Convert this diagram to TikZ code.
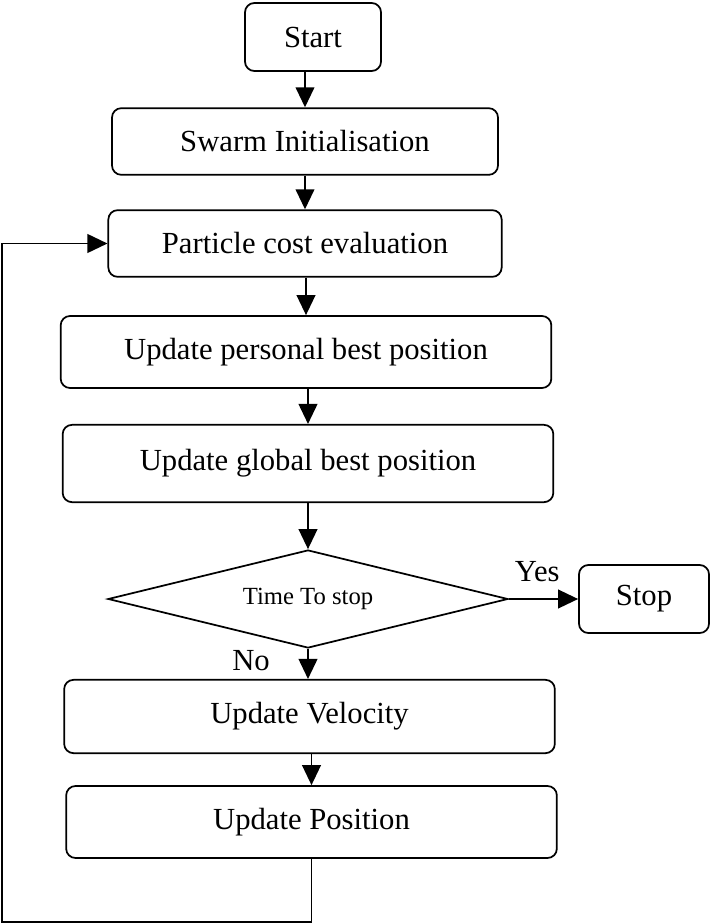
\documentclass[tikz,border=0pt]{standalone}
\usepackage{fontspec}
\setmainfont{Liberation Serif}
\usetikzlibrary{arrows.meta,shapes.geometric}
\tikzstyle{block}=[draw,rounded corners=7pt,line width=1.3pt,inner sep=0pt,font=\fontsize{23}{27}\selectfont]
\tikzstyle{decision}=[diamond,draw,line width=1.3pt,inner sep=0pt,aspect=4,minimum width=300pt,minimum height=73.5pt,font=\fontsize{18.5}{22}\selectfont]
\tikzstyle{edge}=[draw,line width=1.4pt,-{Triangle[length=15pt,width=14pt]}]
\tikzstyle{answer}=[inner sep=0pt,font=\fontsize{23}{27}\selectfont]

\begin{document}
\begin{tikzpicture}[x=0.75pt, y=-0.75pt]
   \useasboundingbox (0,0) rectangle (711,924);

    % Boxes of the flow
    \foreach \x/\y/\name/\bw/\bh/\label in {313/37/start/102/51/Start,
        305/141.5/swarm/289.5/50/Swarm Initialisation,
        305/243.5/cost/295/50/Particle cost evaluation,
        306/352/personal/368/54/Update personal best position,
        308/463.5/global/368/58/Update global best position,
        309.5/716.5/velocity/368/55/Update Velocity,
        311.5/822/position/368/54/Update Position,
        644/599/stop/97.5/51/Stop}
        \node[block,minimum width=\bw pt,minimum height=\bh pt] (\name) at (\x,\y) {\label};

    \node[decision] (decide) at (308,599) {Time To stop};

    % Connect boxes with edges
    \foreach \source/\dest in {start/swarm,swarm/cost,cost/personal,personal/global,global/decide,velocity/position}
        \draw[edge] (\dest.north |- \source.south) -- (\dest.north);

    \draw[edge] (decide.east) -- node[answer,above=12pt,pos=0.41] {Yes} (stop.west);
    \draw[edge] (decide.south) -- node[answer,left=28pt,pos=0.4] {No} (decide.south |- velocity.north);

    % back to the cost evaluation
    \coordinate (corner) at (2,922);
    \draw[edge] (position.south) |- (corner) |- (cost.west);

\end{tikzpicture}
\end{document}
